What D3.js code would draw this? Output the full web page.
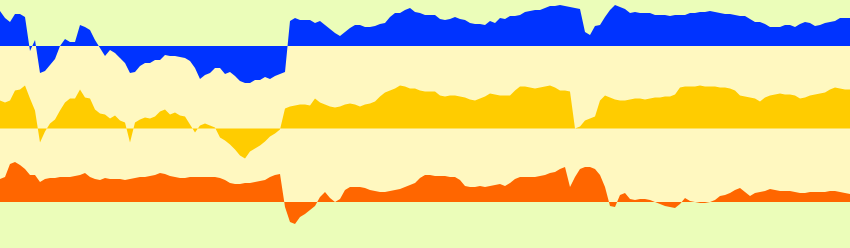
<!DOCTYPE html>
<html>
<head>
<meta charset="utf-8">
<script src="https://cdnjs.cloudflare.com/ajax/libs/d3/7.8.5/d3.min.js"></script>
<style>
  body { margin: 0; padding: 0; background: #fff; }
  svg { display: block; }
</style>
</head>
<body>
<div id="chart"></div>
<script>
// Three series, one reading every step (values relative to each band's zero line)
var blueValues = [
  35, 28, 24, 32, 32, 29, -5, 6, -27, -25, -19, -13, 0, 7, 4, 4, 21, 19, 16, 6,
  -2, -10, -4, -7, -12, -17, -27, -26, -20, -17, -17, -14, -14, -9, -10, -10, -11, -12, -15, -22,
  -33, -29, -27, -22, -22, -28, -26, -30, -35, -37, -37, -34, -34, -31, -33, -30, -28, -26, 25, 28,
  26, 26, 26, 23, 25, 21, 17, 13, 10, 14, 18, 21, 21, 19, 19, 20, 22, 23, 29, 33,
  33, 36, 38, 34, 33, 31, 31, 31, 27, 26, 27, 29, 27, 26, 23, 22, 22, 21, 25, 23,
  28, 27, 30, 30, 31, 34, 35, 36, 36, 38, 40, 40, 41, 40, 39, 38, 37, 14, 11, 20,
  21, 29, 36, 41, 39, 37, 33, 34, 33, 33, 33, 31, 31, 31, 30, 31, 31, 31, 33, 33,
  34, 34, 35, 34, 33, 32, 32, 31, 30, 30, 27, 24, 24, 22, 19, 19, 19, 21, 21, 19,
  22, 24, 23, 20, 21, 23, 24, 25, 28, 28, 28
];

var yellowValues = [
  28, 26, 28, 38, 39, 43, 30, 18, -14, -3, 5, 9, 18, 26, 30, 30, 39, 31, 30, 19,
  15, 14, 10, 13, 8, 6, -14, 6, 9, 11, 10, 12, 17, 19, 14, 16, 13, 12, 4, -4,
  3, 5, 3, 1, -9, -12, -16, -21, -27, -30, -23, -20, -17, -13, -8, -5, -1, 20, 22, 23,
  24, 24, 23, 30, 26, 24, 22, 21, 22, 24, 25, 24, 22, 24, 25, 27, 32, 36, 38, 40,
  43, 42, 40, 40, 38, 37, 37, 37, 33, 32, 33, 33, 32, 31, 29, 28, 30, 32, 35, 34,
  33, 33, 33, 38, 42, 42, 41, 40, 41, 42, 43, 41, 38, 38, 37, 0, 2, 8, 10, 12,
  28, 33, 31, 29, 28, 28, 29, 30, 30, 29, 30, 31, 31, 32, 32, 34, 41, 42, 42, 42,
  43, 42, 42, 42, 41, 41, 40, 38, 33, 32, 31, 30, 27, 31, 33, 34, 35, 34, 34, 33,
  30, 31, 33, 34, 35, 36, 39, 41, 40, 39, 39
];

var orangeValues = [
  23, 25, 38, 40, 37, 33, 27, 27, 20, 23, 24, 24, 25, 25, 25, 26, 27, 29, 25, 23,
  22, 24, 23, 23, 23, 22, 23, 24, 25, 25, 26, 27, 29, 28, 26, 25, 24, 24, 25, 25,
  25, 25, 25, 25, 24, 22, 19, 18, 18, 19, 19, 20, 21, 22, 25, 27, 28, -5, -20, -22,
  -15, -12, -8, -4, 5, 10, 4, 0, 3, 12, 15, 15, 15, 14, 12, 11, 10, 10, 11, 12,
  13, 15, 17, 19, 24, 27, 27, 26, 26, 26, 25, 25, 22, 16, 15, 15, 16, 15, 16, 17,
  18, 16, 19, 23, 25, 25, 25, 25, 26, 27, 29, 30, 33, 35, 15, 25, 33, 35, 35, 33,
  27, 15, -4, -5, 7, 9, 3, 2, 3, 3, 2, 0, -2, -4, -5, -6, -2, 4, 1, 0,
  -1, -1, 0, 2, 6, 7, 9, 12, 14, 10, 6, 9, 10, 11, 13, 12, 11, 11, 11, 10,
  9, 9, 10, 10, 10, 10, 11, 11, 10, 9, 8
];

var seriesNames = ["blue", "yellow", "orange"];

// Drawing variables
var fullWidth = 850;
var fullHeight = 248;
var baselines = [46, 128.5, 202];
var colors = ["#0033ff", "#ffcc00", "#ff6600"];
var bandGreen = "#ebfdb9";
var bandYellow = "#fff8c0";

function DrawChart() {
    var allSeries = [blueValues, yellowValues, orangeValues];

    var svg = d3.select("#chart")
        .append("svg")
        .attr("width", fullWidth)
        .attr("height", fullHeight);

    var xScale = d3.scaleLinear()
        .domain([0, blueValues.length - 1])
        .range([0, fullWidth]);

    // one y scale per band, same units for all of them
    var yScales = baselines.map(function(b) {
        return d3.scaleLinear()
            .domain([0, 50])
            .range([b, b - 50]);
    });

    // background bands: green above the first zero line and below the last
    var topZero = yScales[0](0);
    var bottomZero = yScales[2](0);

    svg.append("rect")
        .attr("x", 0).attr("y", 0)
        .attr("width", fullWidth).attr("height", topZero)
        .attr("fill", bandGreen);
    svg.append("rect")
        .attr("x", 0).attr("y", topZero)
        .attr("width", fullWidth).attr("height", bottomZero - topZero)
        .attr("fill", bandYellow);
    svg.append("rect")
        .attr("x", 0).attr("y", bottomZero)
        .attr("width", fullWidth).attr("height", fullHeight - bottomZero)
        .attr("fill", bandGreen);

    // Areas from each zero line
    allSeries.forEach(function(values, i) {
        var area = d3.area()
            .x(function(d, j) { return xScale(j); })
            .y0(yScales[i](0))
            .y1(function(d) { return yScales[i](d); });

        svg.append("path")
            .datum(values)
            .attr("class", "area " + seriesNames[i])
            .attr("fill", colors[i])
            .attr("d", area);
    });
}

DrawChart();
</script>
</body>
</html>
